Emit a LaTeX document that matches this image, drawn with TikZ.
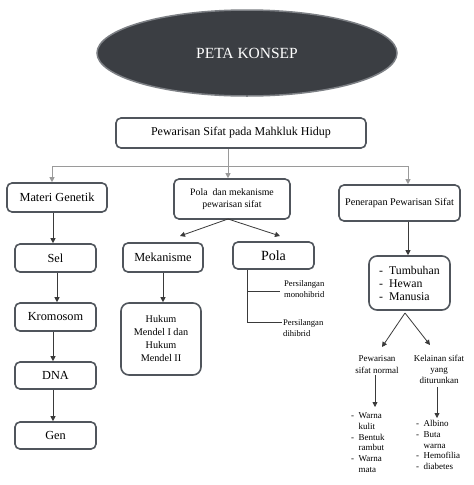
\documentclass[tikz,border=0pt]{standalone}
\usepackage{fontspec}
\setmainfont{Liberation Serif}
\usetikzlibrary{arrows.meta,shapes.geometric}
\definecolor{ellfill}{HTML}{3B3E43}
\definecolor{ellline}{HTML}{7D8085}
\definecolor{boxline}{HTML}{50555C}
\definecolor{conline}{HTML}{3A3A3A}
\definecolor{barline}{HTML}{9A9A9A}
\tikzset{
  box/.style={draw=boxline,line width=1.6pt,rounded corners=5pt,fill=white,inner sep=1pt,align=center},
  conn/.style={draw=conline,line width=0.8pt,-{Triangle[length=5pt,width=5pt]}},
  barconn/.style={draw=barline,line width=0.7pt},
  plain/.style={inner sep=0pt,align=center},
  listtxt/.style={inner sep=0pt,align=left,anchor=north west}
}
\begin{document}
\begin{tikzpicture}[x=1pt,y=-1pt]
\useasboundingbox (0,0) rectangle (474,485);
\fill[white] (0,0) rectangle (474,485);
% title ellipse
\node[ellipse,draw=ellline,line width=1.5pt,fill=ellfill,minimum width=300pt,minimum height=86pt,text=white,font=\fontsize{15.5}{18}\selectfont] (title) at (247,53) {PETA KONSEP};
% main
\node[box,minimum width=250pt,minimum height=30pt,font=\fontsize{12}{14}\selectfont] (main) at (241,133) {Pewarisan Sifat pada Mahkluk Hidup};
% level 1
\node[box,minimum width=100pt,minimum height=29pt,font=\fontsize{12.3}{14}\selectfont] (mg) at (57,197.5) {Materi Genetik};
\node[box,minimum width=116pt,minimum height=40pt,font=\fontsize{9.8}{12.5}\selectfont] (pm) at (232,199) {Pola\ \ dan mekanisme\\pewarisan sifat};
\node[box,minimum width=121pt,minimum height=36pt,font=\fontsize{10.2}{12}\selectfont] (pen) at (399.5,203) {Penerapan Pewarisan Sifat};
% materi genetik column
\node[box,minimum width=81pt,minimum height=28pt,font=\fontsize{12.3}{14}\selectfont] (sel) at (55.5,258) {Sel};
\node[box,minimum width=81pt,minimum height=28pt,font=\fontsize{12.3}{14}\selectfont] (krom) at (55.5,317) {Kromosom};
\node[box,minimum width=81pt,minimum height=27pt,font=\fontsize{12.3}{14}\selectfont] (dna) at (55.5,375.5) {DNA};
\node[box,minimum width=81pt,minimum height=27pt,font=\fontsize{12.3}{14}\selectfont] (gen) at (55.5,435.5) {Gen};
% mekanisme
\node[box,minimum width=80pt,minimum height=29pt,font=\fontsize{12.3}{14}\selectfont] (mek) at (163,257.5) {Mekanisme};
\node[box,minimum width=80pt,minimum height=72pt,rounded corners=8pt,font=\fontsize{10.2}{13}\selectfont] (hukum) at (161,339) {Hukum\\Mendel I dan\\Hukum\\Mendel II};
% pola
\node[box,minimum width=81pt,minimum height=27pt,font=\fontsize{14}{16}\selectfont] (pola) at (273.5,255.5) {Pola};
\node[plain,anchor=west,font=\fontsize{8.6}{11}\selectfont,align=left] (mono) at (284,289.5) {Persilangan\\monohibrid};
\node[plain,anchor=west,font=\fontsize{8.6}{11}\selectfont,align=left] (dih) at (283,328) {Persilangan\\dihibrid};
% penerapan
\node[box,minimum width=81pt,minimum height=54pt,rounded corners=8pt,font=\fontsize{11.8}{13}\selectfont,align=left] (tumb) at (409.5,283) {-\ \ Tumbuhan\\-\ \ Hewan\\-\ \ Manusia};
\node[plain,font=\fontsize{9}{12}\selectfont] (norm) at (377,365) {Pewarisan\\sifat normal};
\node[plain,font=\fontsize{9}{11}\selectfont] (kel) at (439,369) {Kelainan sifat\\yang\\diturunkan};
\node[listtxt,font=\fontsize{9}{10.7}\selectfont] (lnorm) at (351,411) {\begin{tabular}{@{}l@{\ \ }l@{}}-&Warna\\&kulit\\-&Bentuk\\&rambut\\-&Warna\\&mata\end{tabular}};
\node[listtxt,font=\fontsize{9}{10.7}\selectfont] (lkel) at (416,419) {\begin{tabular}{@{}l@{\ \ }l@{}}-&Albino\\-&Buta\\&warna\\-&Hemofilia\\-&diabetes\end{tabular}};
% connectors top
\coordinate (bl) at (52,166);
\coordinate (bm) at (228,166);
\coordinate (br) at (408,166);
\draw[barconn] (main.south -| bm) -- (bm);
\draw[barconn] (bl) -- (br);
\draw[conn,draw=barline] (bl) -- (bl |- mg.north);
\draw[conn,draw=barline] (bm) -- (bm |- pm.north);
\draw[conn,draw=barline] (br) -- (br |- pen.north);
% materi genetik chain
\coordinate (c1) at (53,0);
\coordinate (c2) at (57,0);
\draw[conn] (mg.south -| c1) -- (sel.north -| c1);
\draw[conn] (sel.south -| c2) -- (krom.north -| c2);
\draw[conn] (krom.south -| c1) -- (dna.north -| c1);
\draw[conn] (dna.south -| c1) -- (gen.north -| c1);
% pola mekanisme split
\coordinate (pmb) at (228,219);
\coordinate (tm) at (180,236);
\coordinate (tp) at (280,236);
\draw[conn] (pmb) -- (tm);
\draw[conn] (pmb) -- (tp);
\coordinate (c3) at (163,0);
\draw[conn] (mek.south -| c3) -- (hukum.north -| c3);
% pola branches
\coordinate (p1) at (247,291);
\coordinate (p2) at (247,322);
\draw[barconn,draw=conline,line width=0.6pt] (pola.south -| p1) -- (p2) -- (282,322);
\draw[barconn,draw=conline,line width=0.6pt] (p1) -- (280,291);
% penerapan
\draw[conn] (pen.south -| br) -- (tumb.north -| br);
\coordinate (tb) at (405,313);
\draw[conn] (tb) -- (382,347);
\draw[conn] (tb) -- (430,345);
\coordinate (a1) at (375,375);
\coordinate (a2) at (375,407);
\coordinate (a3) at (437,387);
\coordinate (a4) at (437,418);
\draw[conn] (a1) -- (a2);
\draw[conn] (a3) -- (a4);
\end{tikzpicture}
\end{document}
